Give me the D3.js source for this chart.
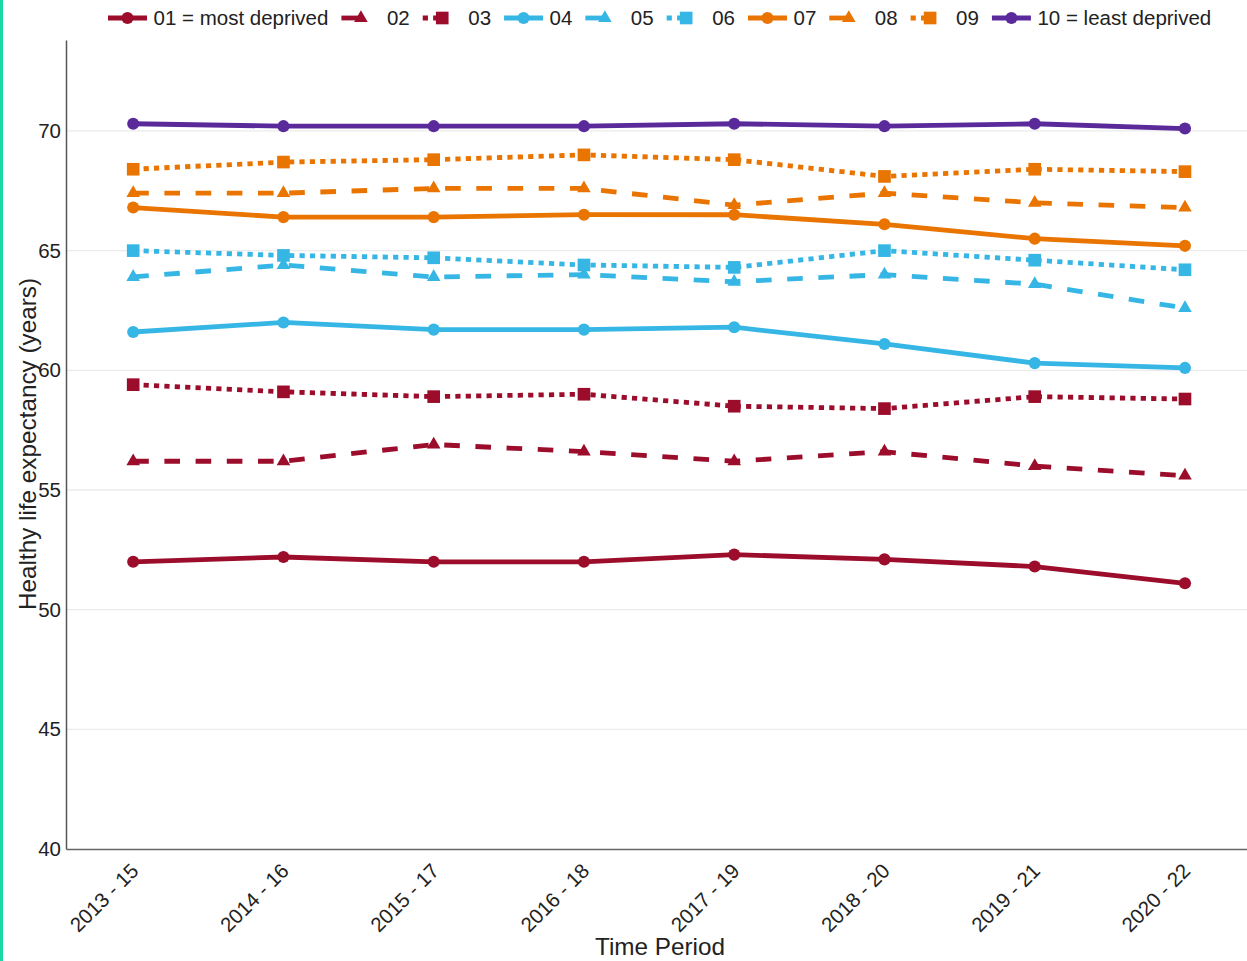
<!DOCTYPE html>
<html>
<head>
<meta charset="utf-8">
<title>Healthy life expectancy by deprivation decile</title>
<script src="https://cdn.jsdelivr.net/npm/d3@7"></script>
<style>
  body { margin: 0; background: #fff; }
  #graphWrapper { position: relative; width: 1247px; height: 961px; }
  #graphWrapper svg text { font-family: "Liberation Sans", Arial, sans-serif; fill: #222; }
</style>
</head>
<body>
<div id="graphWrapper"><svg id="svg1" width="1247" height="961"></svg></div>
<script>
"use strict";

// ---- data ----
const periods = ["2013 - 15", "2014 - 16", "2015 - 17", "2016 - 18", "2017 - 19", "2018 - 20", "2019 - 21", "2020 - 22"];
const groups  = ["01 = most deprived", "02", "03", "04", "05", "06", "07", "08", "09", "10 = least deprived"];
const yTicks  = [40, 45, 50, 55, 60, 65, 70];

const s01 = [52.0, 52.2, 52.0, 52.0, 52.3, 52.1, 51.8, 51.1];
const s02 = [56.2, 56.2, 56.9, 56.6, 56.2, 56.6, 56.0, 55.6];
const s03 = [59.4, 59.1, 58.9, 59.0, 58.5, 58.4, 58.9, 58.8];
const s04 = [61.6, 62.0, 61.7, 61.7, 61.8, 61.1, 60.3, 60.1];
const s05 = [63.9, 64.4, 63.9, 64.0, 63.7, 64.0, 63.6, 62.6];
const s06 = [65.0, 64.8, 64.7, 64.4, 64.3, 65.0, 64.6, 64.2];
const s07 = [66.8, 66.4, 66.4, 66.5, 66.5, 66.1, 65.5, 65.2];
const s08 = [67.4, 67.4, 67.6, 67.6, 66.9, 67.4, 67.0, 66.8];
const s09 = [68.4, 68.7, 68.8, 69.0, 68.8, 68.1, 68.4, 68.3];
const s10 = [70.3, 70.2, 70.2, 70.2, 70.3, 70.2, 70.3, 70.1];
const seriesValues = [s01, s02, s03, s04, s05, s06, s07, s08, s09, s10];

// ---- styling per decile ----
const red = "#9b0d2b", blue = "#36b6e4", orange = "#e97400", purple = "#5a2a9b";
const groupColours = [red, red, red, blue, blue, blue, orange, orange, orange, purple];
const groupDash    = ["solid", "dash", "dot", "solid", "dash", "dot", "solid", "dash", "dot", "solid"];
const groupSymbol  = ["circle", "triangle", "square", "circle", "triangle", "square", "circle", "triangle", "square", "circle"];

const dashArray = {solid: null, dash: "15.6,15.6", dot: "5.2,5.2"};
// the legend swatches only show the start of the pattern
const legendDash = {solid: null, dash: "17,60", dot: "5.2,5.2,5.2,60"};
const symbolType = {circle: d3.symbolCircle, triangle: d3.symbolTriangle, square: d3.symbolSquare};
const symbolSize = {circle: 115, triangle: 80, square: 160};

const svg = d3.select("#svg1");
const W = 1247, H = 961;
const plot = {left: 66, right: W, top: 40, bottom: 849};
const tickFont = "20.5px", titleFont = "24.3px";

// green strip on the left edge of the page
svg.append("rect").attr("x", 0).attr("y", 0).attr("width", 3).attr("height", H).style("fill", "#1ad9a6");

const x = d3.scalePoint().domain(periods).range([plot.left, plot.right]).padding(0.43).align(0.52);
const y = d3.scaleLinear().domain([40, 73.8]).range([plot.bottom, plot.top]);

// gridlines
svg.append("g").attr("class", "grid")
  .selectAll("line")
  .data(yTicks.filter(t => t > 40))
  .enter().append("line")
  .attr("x1", plot.left).attr("x2", plot.right)
  .attr("y1", d => y(d)).attr("y2", d => y(d))
  .style("stroke", "#ebebeb").style("stroke-width", 1.3);

// axes
const yAxis = svg.append("g")
  .attr("class", "axis axis-y")
  .attr("transform", `translate(${plot.left},0)`)
  .call(d3.axisLeft(y).tickValues(yTicks).tickSize(0).tickSizeOuter(0).tickPadding(5));
yAxis.select(".domain").style("stroke", "#555").style("stroke-width", 1.5);
yAxis.selectAll("text").style("font-size", tickFont);

const xAxis = svg.append("g")
  .attr("class", "axis axis-x")
  .attr("transform", `translate(0,${plot.bottom})`)
  .call(d3.axisBottom(x).tickSize(0).tickSizeOuter(0));
xAxis.select(".domain").style("stroke", "#666").style("stroke-width", 1.5);
xAxis.selectAll("text")
  .attr("x", 0).attr("y", 0).attr("dy", "0.35em")
  .attr("transform", "translate(1,18) rotate(-45)")
  .style("text-anchor", "end")
  .style("font-size", tickFont);

// axis titles
svg.append("text")
  .attr("x", 660).attr("y", 955)
  .style("text-anchor", "middle").style("font-size", titleFont)
  .text("Time Period");
svg.append("text")
  .attr("transform", "translate(36,444) rotate(-90)")
  .style("text-anchor", "middle").style("font-size", titleFont)
  .text("Healthy life expectancy (years)");

// lines and markers, one decile at a time (later ones on top)
const line = d3.line().x((d, i) => x(periods[i])).y(d => y(d));
const series = svg.append("g").attr("class", "series");

seriesValues.forEach((vals, k) => {
  const g = series.append("g");
  g.append("path")
    .datum(vals)
    .attr("d", line)
    .style("fill", "none")
    .style("stroke", groupColours[k])
    .style("stroke-width", 4.8)
    .style("stroke-dasharray", dashArray[groupDash[k]]);
  g.selectAll("path.marker")
    .data(vals)
    .enter().append("path")
    .attr("class", "marker")
    .attr("transform", (d, i) => `translate(${x(periods[i])},${y(d)})`)
    .attr("d", d3.symbol().type(symbolType[groupSymbol[k]]).size(symbolSize[groupSymbol[k]]))
    .style("fill", groupColours[k]);
});

// legend across the top, laid out item by item
const legend = svg.append("g").attr("class", "legend");
let lx = 101.5;
const ly = 18;
groups.forEach((name, k) => {
  const item = legend.append("g").attr("transform", `translate(${lx},${ly})`);
  item.append("line")
    .attr("x1", 6.5).attr("x2", 45.5).attr("y1", 0).attr("y2", 0)
    .style("stroke", groupColours[k])
    .style("stroke-width", 4.8)
    .style("stroke-dasharray", legendDash[groupDash[k]]);
  item.append("path")
    .attr("transform", "translate(26,0)")
    .attr("d", d3.symbol().type(symbolType[groupSymbol[k]]).size(symbolSize[groupSymbol[k]]))
    .style("fill", groupColours[k]);
  const t = item.append("text")
    .attr("x", 52).attr("y", 0).attr("dy", "0.35em")
    .style("font-size", "20.5px")
    .text(name);
  lx += 52 + t.node().getComputedTextLength() + 6.5;
});
</script>
</body>
</html>
